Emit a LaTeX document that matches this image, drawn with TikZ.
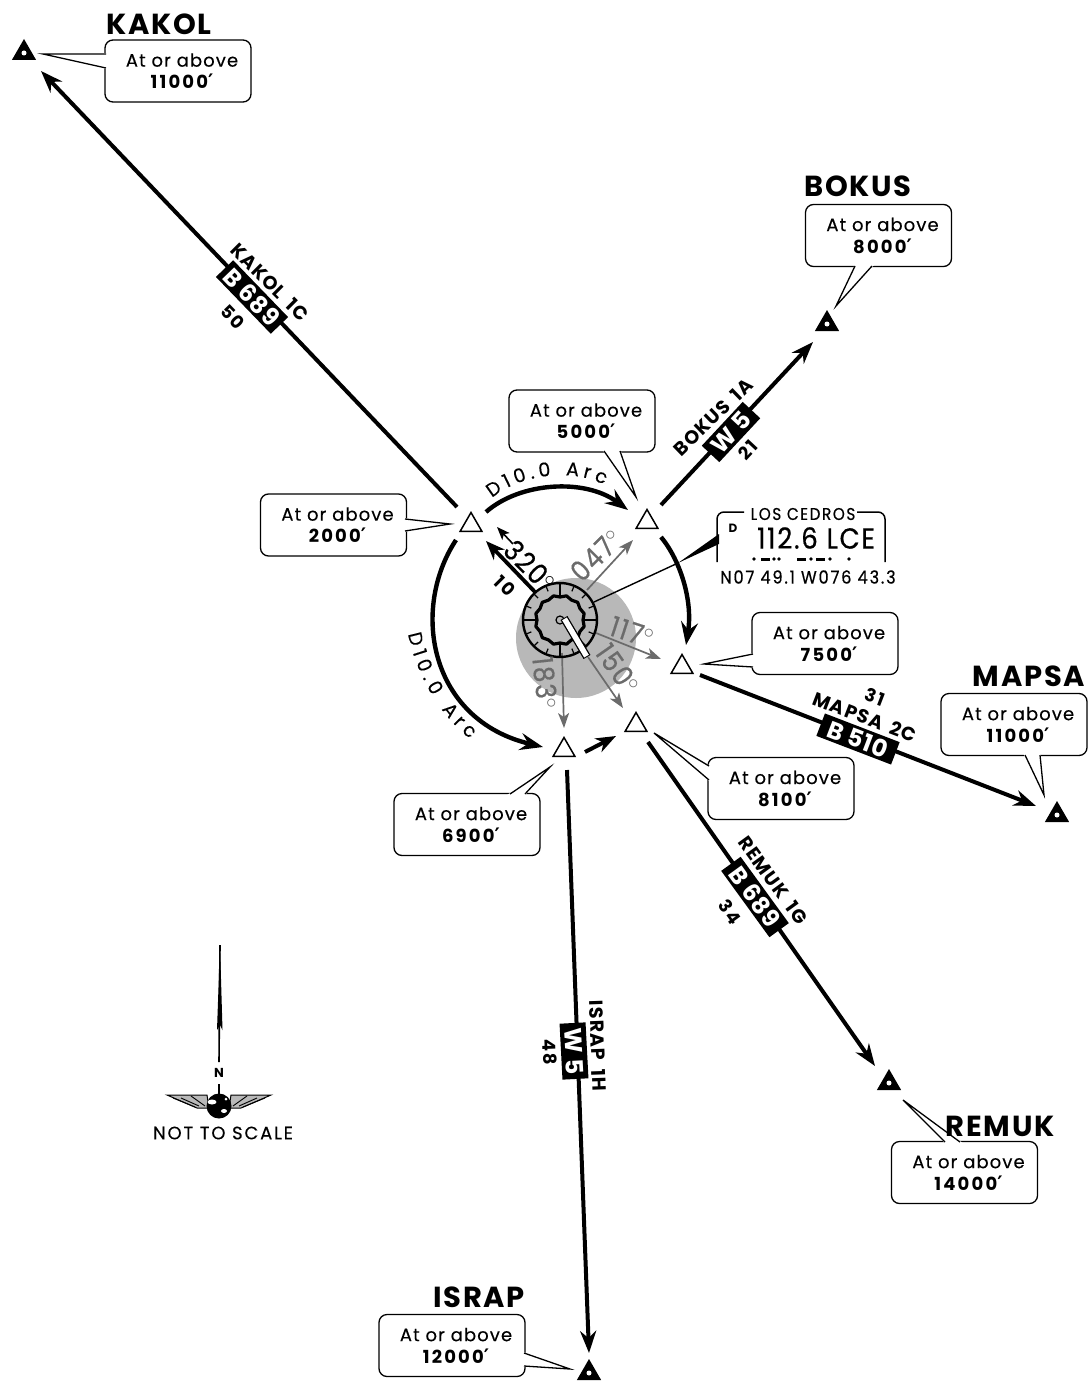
\documentclass[tikz,border=0pt]{standalone}
\usepackage{fontspec}
\setmainfont{Poppins}[LetterSpace=6,UprightFeatures={FakeBold=0.3}]
\newfontfamily\narrowf[FakeStretch=0.9,FakeBold=0.5]{Poppins}
\newfontfamily\primef{DejaVu Sans}
\usetikzlibrary{arrows.meta,shapes.geometric,calc,decorations.text}
\definecolor{radial}{gray}{0.42}
\definecolor{disc}{gray}{0.72}
\tikzset{
  x=1pt,y=-1pt,
  route/.style={line width=4pt,-{Stealth[length=22pt,width=16pt,inset=7pt]}},
  arcline/.style={line width=4.4pt,-{Stealth[length=23pt,width=17pt,inset=8pt]}},
  radialline/.style={draw=radial,line width=1.7pt,-{Stealth[length=15pt,width=11pt,inset=4pt]}},
  boxstyle/.style={draw,line width=1.3pt,rounded corners=8pt,fill=white,minimum width=146pt,minimum height=62pt,align=center,inner sep=0pt,font=\fontsize{18}{22}\selectfont},
  fixhollow/.style={regular polygon,regular polygon sides=3,draw,line width=1.5pt,fill=white,minimum size=25pt,inner sep=0pt},
  fixsolid/.style={regular polygon,regular polygon sides=3,fill=black,minimum size=28pt,inner sep=0pt},
  fixname/.style={font=\fontsize{29}{29}\selectfont\bfseries,inner sep=0pt},
  shield/.style={fill=black,text=white,inner sep=0pt,minimum height=24pt,font=\fontsize{24}{24}\selectfont\bfseries\addfontfeature{LetterSpace=3}},
  routename/.style={font=\fontsize{19}{19}\selectfont\bfseries\addfontfeature{LetterSpace=6},inner sep=0pt},
  routedist/.style={font=\fontsize{18}{18}\selectfont\bfseries\addfontfeature{LetterSpace=12},inner sep=0pt},
  deglabel/.style={font=\fontsize{28}{28}\selectfont\narrowf\addfontfeature{LetterSpace=6},inner sep=0pt},
  navtext/.style={inner sep=0pt}
}
\newcommand\altnum[1]{\hspace*{8pt}{\bfseries\addfontfeature{LetterSpace=12}#1}{\primef\bfseries\fontsize{20}{16}\selectfont\char"2032}}
\newcommand\wsp{\hspace{9pt}}
\newcommand\callout[6]{%
  \node[boxstyle] (#1) at (#2) {\hspace*{8pt}At or above\\\altnum{#3}};
  \coordinate (#1-tip) at (#4);
  \coordinate (#1-a) at (#5);
  \coordinate (#1-b) at (#6);
  \fill[white,draw=white,line width=1.6pt] (#1-a)--(#1-tip)--(#1-b)--cycle;
  \draw[line width=1.3pt,line join=miter] (#1-a)--(#1-tip)--(#1-b);
}
\newcommand\soliddot[2]{%
  \node[fixsolid] (#1) at (#2) {};
  \node[circle,fill=white,minimum size=5pt,inner sep=0pt] (#1-hole) at (#2) {};
}
\begin{document}
\begin{tikzpicture}
\useasboundingbox (0,0) rectangle (1089,1381);
% gray disc and station
\node[circle,fill=disc,minimum size=120pt,inner sep=0pt] (disc) at (576,638) {};
% solid fixes
\soliddot{kakol}{24,53}
\soliddot{bokus}{827,324}
\soliddot{mapsa}{1057,815}
\soliddot{remuk}{889,1083}
\soliddot{israp}{589,1373}
% hollow fixes
\node[fixhollow] (w1) at (471,525) {};
\node[fixhollow] (w2) at (647,522) {};
\node[fixhollow] (w3) at (682,667) {};
\node[fixhollow] (w4) at (636,725) {};
\node[fixhollow] (w5) at (564,750) {};
% route ends
\coordinate (r1a) at (457,507); \coordinate (r1b) at (41,71);
\coordinate (r2a) at (661,505); \coordinate (r2b) at (813,342);
\coordinate (r3a) at (700,675); \coordinate (r3b) at (1036,806);
\coordinate (r4a) at (648,742); \coordinate (r4b) at (875,1066);
\coordinate (r5a) at (567,770); \coordinate (r5b) at (589,1353);
\draw[route] (r1a)--(r1b);
\draw[route] (r2a)--(r2b);
\draw[route] (r3a)--(r3b);
\draw[route] (r4a)--(r4b);
\draw[route] (r5a)--(r5b);
% arcs
\coordinate (a1s) at (486,512); \coordinate (a1e) at (628,510);
\coordinate (a2s) at (661,537); \coordinate (a2e) at (686,645);
\coordinate (a3s) at (456,540); \coordinate (a3e) at (543,747);
\draw[arcline] (a1s) .. controls (520,482) and (585,478) .. (a1e);
\draw[arcline] (a2s) .. controls (680,560) and (693,600) .. (a2e);
\draw[arcline] (a3s) .. controls (410,610) and (430,720) .. (a3e);
\coordinate (s1) at (585,752); \coordinate (s2) at (616,736);
\draw[line width=4pt,-{Stealth[length=20pt,width=15pt,inset=6pt]}] (s1)--(s2);
% radials
\coordinate (v47) at (587,590); \coordinate (e47) at (633,540);
\coordinate (v117) at (596,633); \coordinate (e117) at (661,659);
\coordinate (v150) at (588,657); \coordinate (e150) at (623,708);
\coordinate (v183) at (562,653); \coordinate (e183) at (564,728);
\draw[radialline] (v47)--(e47);
\draw[radialline] (v117)--(e117);
\draw[radialline] (v150)--(e150);
\draw[radialline] (v183)--(e183);
\coordinate (v320) at (535,592); \coordinate (e320) at (486,541);
\draw[line width=3.8pt,-{Stealth[length=19pt,width=15pt,inset=6pt]}] (v320)--(e320);
\coordinate (t320a) at (513,544); \coordinate (t320b) at (497,527);
\draw[line width=1.6pt,-{Stealth[length=13pt,width=10pt,inset=3pt]}] (t320a)--(t320b);
% station symbol
\coordinate (vor) at (560,620);
\draw[line width=2.4pt] (vor) circle[radius=37];
\foreach \a in {0,90,180,270} \draw[line width=2pt] ($(vor)+(\a:24)$)--($(vor)+(\a:37)$);
\foreach \a in {22.5,45,67.5,112.5,135,157.5,202.5,225,247.5,292.5,315,337.5}
  \draw[line width=1.2pt] ($(vor)+(\a:31)$)--($(vor)+(\a:37)$);
\draw[line width=3.2pt,line join=round] plot[domain=0:360,samples=25] ({560+cos(\x)*(23+(mod(round(\x/15),2))*2)},{620+sin(\x)*(23+(mod(round(\x/15),2))*2)}) -- cycle;
\draw[line width=1.2pt] (vor) circle[radius=4];
\coordinate (bar1) at (564,618); \coordinate (bar2) at (587,657);
\draw[line width=8pt] (bar1)--(bar2);
\draw[white,line width=5.4pt,shorten >=1pt,shorten <=1pt] (bar1)--(bar2);
% leader to station box
\coordinate (lead) at (594,602);
\coordinate (boxa) at (719,534); \coordinate (boxb) at (719,544);
\coordinate (leadm) at (678,563);
\fill (leadm)--(boxa)--(boxb)--cycle;
\draw[line width=1.4pt] (lead)--(leadm);
% station box
\coordinate (bl) at (717,562); \coordinate (tl) at (717,512); \coordinate (tr) at (885,512); \coordinate (br) at (885,562);
\coordinate (g1) at (744,512); \coordinate (g2) at (857,512);
\draw[line width=1.5pt,rounded corners=7pt] (g1)--(tl)--(bl);
\draw[line width=1.5pt,rounded corners=7pt] (g2)--(tr)--(br);
\node[navtext,font=\fontsize{17}{17}\selectfont\narrowf\addfontfeature{LetterSpace=9}] (navname) at (803,514) {LOS CEDROS};
\node[navtext,font=\fontsize{29}{29}\selectfont\narrowf\addfontfeature{LetterSpace=6}] (navfreq) at (816,538) {112.6 LCE};
\node[navtext,font=\fontsize{18}{18}\selectfont\narrowf\addfontfeature{LetterSpace=10}] (navpos) at (808,577) {N07 49.1 W076 43.3};
\node[inner sep=0pt,font=\fontsize{12}{12}\selectfont\bfseries] (navd) at (733,528) {D};
% callouts
\callout{c1}{178,71}{11000}{43,54}{106,54}{106,68}
\callout{c2}{878.5,235.5}{8000}{836,306}{855,266}{872,266}
\callout{c3}{582,421}{5000}{636,497}{604,451}{620,451}
\callout{c4}{333.5,525}{2000}{450,524}{405,519}{405,531}
\callout{c5}{825,643.5}{7500}{704,664}{753,654}{753,667}
\callout{c6}{1014,724.5}{11000}{1044,795}{1025,755}{1040,755}
\callout{c7}{781,788.5}{8100}{654,733}{709,766}{709,780}
\callout{c8}{467,824.5}{6900}{550,767}{510,794}{525,794}
\callout{c9}{964.5,1172.5}{14000}{903,1100}{945,1142}{960,1142}
\callout{c10}{452,1345.5}{12000}{570,1369}{524,1353}{524,1366}
% fix names
\node[fixname] (nkakol) at (159,24) {KAKOL};
\node[fixname] (nbokus) at (858,186) {BOKUS};
\node[fixname] (nmapsa) at (1029,676) {MAPSA};
\node[fixname] (nremuk) at (1000,1126) {REMUK};
\node[fixname] (nisrap) at (479,1297) {ISRAP};
% airway shields
\node[shield,rotate=-46,minimum width=79pt] (s-kakol) at (252,297) {B 689};
\node[shield,rotate=47,minimum width=60pt] (s-bokus) at (731,432) {W 5};
\node[shield,rotate=-21,minimum width=80pt] (s-mapsa) at (858,739) {B 510};
\node[shield,rotate=-54,minimum width=82pt] (s-remuk) at (755,897) {B 689};
\node[shield,rotate=-87,minimum width=56pt,minimum height=26pt] (s-israp) at (574,1051) {W 5};
\node[routename,rotate=-45] (l1) at (270,282) {KAKOL\wsp 1C};
\node[routedist,rotate=-46] (d1) at (233,317) {50};
\node[routename,rotate=44] (l2) at (713,417) {BOKUS\wsp 1A};
\node[routedist,rotate=47] (d2) at (748,450) {21};
\node[routename,rotate=-21] (l3) at (865,717) {MAPSA\wsp 2C};
\node[routedist,rotate=-21] (d3) at (875,697) {31};
\node[routename,rotate=-54] (l4) at (773,880) {REMUK\wsp 1G};
\node[routedist,rotate=-54] (d4) at (730,912) {34};
\node[routename,rotate=-88] (l5) at (598,1046) {ISRAP\wsp 1H};
\node[routedist,rotate=-88] (d5) at (550,1052) {48};
% arc labels
\coordinate (tx1a) at (492,498); \coordinate (tx1b) at (604,485);
\path[decorate,decoration={text along path,text align={fit to path},text={|\fontsize{19}{19}\selectfont|D10.0 Arc}}] (tx1a) .. controls (520,474) and (575,468) .. (tx1b);
\coordinate (tx2a) at (408,634); \coordinate (tx2b) at (470,739);
\path[decorate,decoration={text along path,text align={fit to path},text={|\fontsize{19}{19}\selectfont|D10.0 Arc}}] (tx2a) .. controls (418,680) and (440,714) .. (tx2b);
% bearing labels
\node[deglabel,rotate=-45] (b320) at (530,566) {320$^{\circ}$};
\node[deglabel,rotate=45,text=radial] (b047) at (596,555) {047$^{\circ}$};
\node[deglabel,rotate=-18,text=radial] (b117) at (632,632) {117$^{\circ}$};
\node[deglabel,rotate=-55,text=radial] (b150) at (618,669) {150$^{\circ}$};
\node[deglabel,rotate=-84,text=radial] (b183) at (545,683) {183$^{\circ}$};
\node[routedist,rotate=-45] (d320) at (505,586) {10};
% north arrow and emblem
\coordinate (ntip) at (220,945); \coordinate (nbase) at (219,1062);
\fill (ntip)--(222.5,1030)--(220,1025)--(217,1030)--cycle;
\draw[line width=1.6pt] (ntip)--(nbase);
\node[inner sep=0pt,font=\fontsize{13}{13}\selectfont\bfseries] (nn) at (219,1073) {N};
\coordinate (nb2) at (219,1084); \coordinate (nb3) at (219,1095);
\draw[line width=1.6pt] (nb2)--(nb3);
\foreach \s in {1,-1}{
  \begin{scope}[shift={(219,0)},xscale=\s]
  \fill[gray!55] (-52,1095)--(-12,1095)--(-10,1108)--(-22,1108)--cycle;
  \draw[line width=1pt] (-52,1095)--(-12,1095)--(-10,1108)--(-22,1108)--cycle;
  \draw[line width=.9pt] (-46,1098)--(-24,1107) (-38,1098)--(-20,1106) (-28,1096)--(-14,1106);
  \end{scope}
}
\node[circle,fill=black,minimum size=25pt,inner sep=0pt] (globe) at (219,1106) {};
\fill[white] (212,1102) ellipse[x radius=4.5,y radius=2.5];
\fill[white] (224,1111) ellipse[x radius=3,y radius=2];
\fill[white] (226,1099) circle[radius=1.5];
\node[inner sep=0pt,font=\fontsize{18}{18}\selectfont\addfontfeature{LetterSpace=10}] (nts) at (223,1133) {NOT TO SCALE};
% morse
\foreach \mx in {754,774,779,811,830,849} \fill (\mx,559) circle[radius=1.8];
\foreach \mx/\my in {761/770,797/806,816/825} \draw[line width=3pt] (\mx,559)--(\my,559);
\end{tikzpicture}
\end{document}
